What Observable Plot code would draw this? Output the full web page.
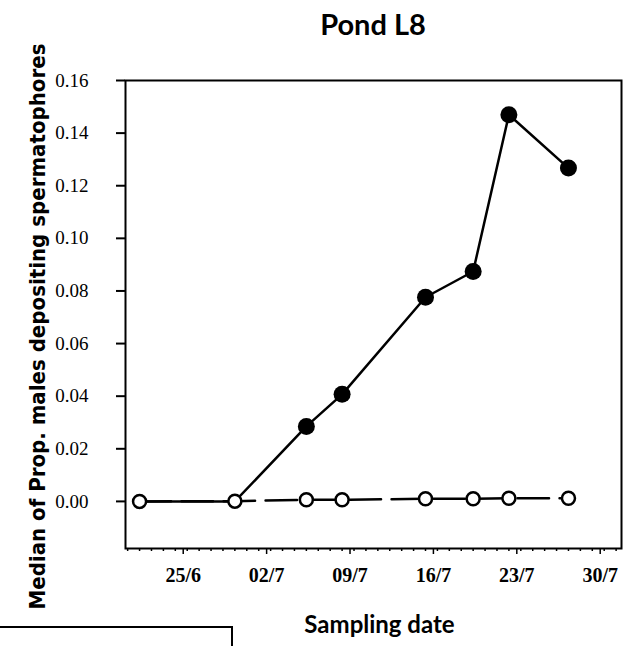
<!DOCTYPE html>
<html>
<head>
<meta charset="utf-8">
<script src="https://cdn.jsdelivr.net/npm/d3@7"></script>
<script src="https://cdn.jsdelivr.net/npm/@observablehq/plot@0.6"></script>
<style>
  body { margin: 0; background: #fff; width: 638px; height: 646px; position: relative; overflow: hidden; }
  #title { height: 60px; margin-left: 125px; width: 496px; text-align: center; font-family: Lato, "DejaVu Sans", sans-serif; font-weight: bold; font-size: 29px; line-height: 32px; padding-top: 8px; box-sizing: border-box; color: #000; }
  #box { position: absolute; left: -2px; top: 626px; width: 233px; height: 40px; border-top: 2px solid #000; border-right: 2px solid #000; }
</style>
</head>
<body>
<div id="title">Pond L8</div>
<div id="chart"></div>
<div id="box"></div>
<script>
// ---- data ----
const sampleDates = ["2000-06-21", "2000-06-29", "2000-07-05", "2000-07-08", "2000-07-15", "2000-07-19", "2000-07-22", "2000-07-27"];
const filledValues = [0, 0, 0.0285, 0.0407, 0.0776, 0.0874, 0.147, 0.1267];
const openValues = [0, 0.0001, 0.0006, 0.0006, 0.001, 0.001, 0.0012, 0.0012];
const xTickDates = ["2000-06-25", "2000-07-02", "2000-07-09", "2000-07-16", "2000-07-23", "2000-07-30"];
const xTickLabels = ["25/6", "02/7", "09/7", "16/7", "23/7", "30/7"];
const yTicks = [0, 0.02, 0.04, 0.06, 0.08, 0.10, 0.12, 0.14, 0.16];
const yLabel = "Median of Prop. males depositing spermatophores";
const xLabel = "Sampling date";
const xDomain = [new Date("2000-06-19T19:40Z"), new Date("2000-07-31T10:50Z")];
const yDomain = [-0.0179, 0.16];

const filled = sampleDates.map((d, i) => ({date: new Date(d), value: filledValues[i]}));
const open = sampleDates.map((d, i) => ({date: new Date(d), value: openValues[i]}));
const majorTicks = xTickDates.map(d => new Date(d));
const labelOf = new Map(majorTicks.map((d, i) => [+d, xTickLabels[i]]));
const minorTicks = d3.utcDays(xDomain[0], xDomain[1]);

const serif = "'Liberation Serif', 'Times New Roman', serif";
const sans = "Lato, 'DejaVu Sans', sans-serif";

const chart = Plot.plot({
  width: 638,
  height: 586,
  marginLeft: 125,
  marginRight: 17,
  marginTop: 20,
  marginBottom: 98,
  style: {background: "#fff", color: "#000", overflow: "visible", fontSize: "19px", fontFamily: serif},
  x: {type: "utc", domain: xDomain},
  y: {domain: yDomain},
  marks: [
    Plot.frame({stroke: "#000", strokeWidth: 2}),
    Plot.axisY({ticks: yTicks, tickFormat: d3.format(".2f"), tickSize: 9, tickPadding: 28, strokeWidth: 2, label: null, fontSize: 19, fontFamily: serif}),
    Plot.axisX({ticks: minorTicks, tickSize: 3, strokeWidth: 1.5, text: null, label: null}),
    Plot.axisX({ticks: majorTicks, tickFormat: d => labelOf.get(+d), tickSize: 6, tickPadding: 13, strokeWidth: 1.5, label: null, fontSize: 20, fontFamily: serif, fontWeight: "bold", dx: -4}),
    Plot.lineY(open, {x: "date", y: "value", stroke: "#000", strokeWidth: 2.5, strokeDasharray: "31.5,10.5"}),
    Plot.lineY(filled, {x: "date", y: "value", stroke: "#000", strokeWidth: 2.5}),
    Plot.dot(filled.filter(d => d.value > 0), {x: "date", y: "value", r: 8.5, fill: "#000", stroke: null}),
    Plot.dot(open, {x: "date", y: "value", r: 6.5, fill: "#fff", stroke: "#000", strokeWidth: 2.5}),
    Plot.text([yLabel], {frameAnchor: "left", textAnchor: "middle", rotate: -90, dx: -88, dy: 12, fontSize: 22, fontWeight: "bold", fontFamily: "'Liberation Sans Narrow', 'DejaVu Sans Condensed', 'Liberation Sans', sans-serif", fill: "#000"}),
    Plot.text([xLabel], {frameAnchor: "bottom", dy: 84, dx: 6, fontSize: 24, fontWeight: "bold", fontFamily: sans, fill: "#000"})
  ]
});
document.getElementById("chart").appendChild(chart);
// condense the long rotated axis title to the span it has in the reference
chart.querySelectorAll("text").forEach(t => {
  if (t.textContent === yLabel) {
    t.setAttribute("textLength", 566);
    t.setAttribute("lengthAdjust", "spacingAndGlyphs");
  }
});
</script>
</body>
</html>
